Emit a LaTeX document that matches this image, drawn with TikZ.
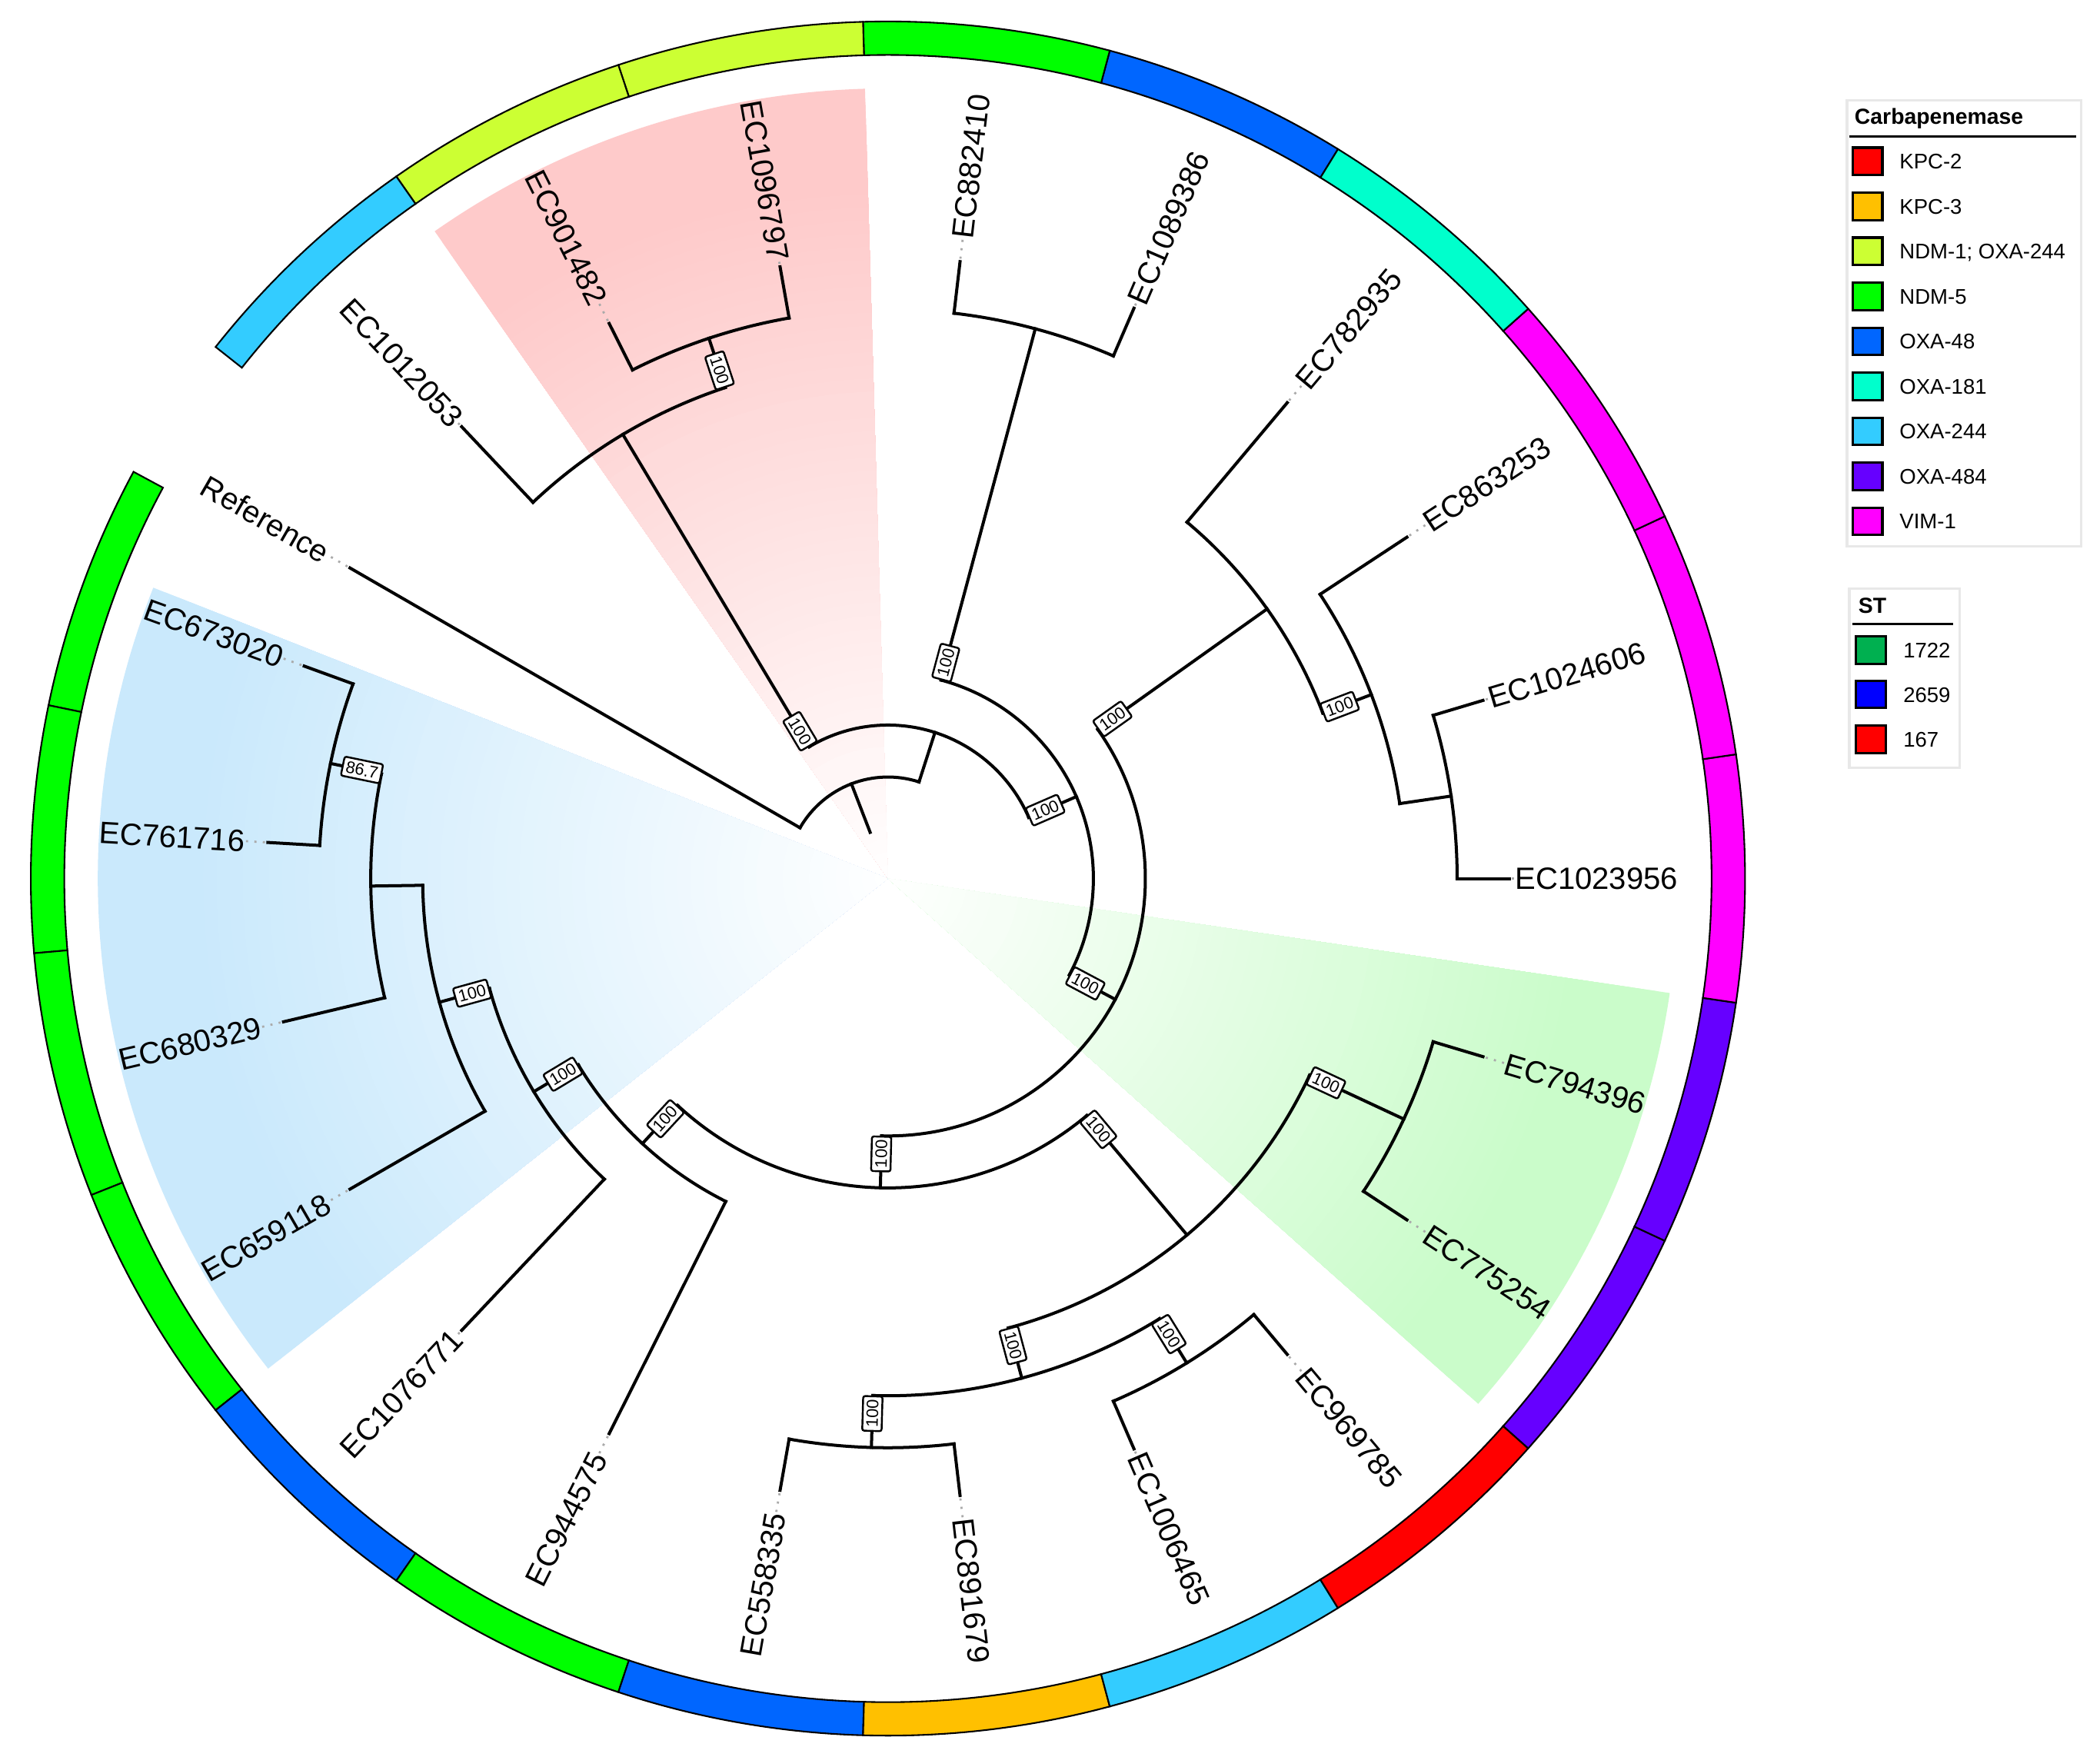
\documentclass[tikz,border=0pt]{standalone}
\usepackage{fontspec}
\setmainfont{Liberation Sans}
\definecolor{kpctwo}{RGB}{255,0,0}
\definecolor{kpcthree}{RGB}{255,192,0}
\definecolor{ndmone}{RGB}{204,255,51}
\definecolor{ndmfive}{RGB}{0,255,0}
\definecolor{oxafe}{RGB}{0,102,255}
\definecolor{oxaoee}{RGB}{0,255,204}
\definecolor{oxatff}{RGB}{51,204,255}
\definecolor{oxaffe}{RGB}{102,0,255}
\definecolor{vimone}{RGB}{255,0,255}
\definecolor{stA}{RGB}{0,176,80}
\definecolor{stB}{RGB}{0,0,255}
\definecolor{stC}{RGB}{255,0,0}
\definecolor{wpink}{RGB}{254,202,202}
\definecolor{wblue}{RGB}{202,233,252}
\definecolor{wgreen}{RGB}{202,252,202}
\definecolor{dotgray}{RGB}{170,170,170}
\definecolor{legframecol}{RGB}{232,232,232}
\tikzset{
  branch/.style={line width=2.3pt, line cap=rect, draw=black},
  leafdot/.style={draw=dotgray, line width=1.6pt, dash pattern=on 1.6pt off 4.7pt},
  leaflab/.style={font=\fontsize{23}{27}\selectfont, inner sep=0pt},
  bootbox/.style={draw=black, fill=white, line width=1.4pt, rounded corners=1.5pt,
    font=\fontsize{12.5}{14}\selectfont, inner xsep=2.5pt, inner ysep=2.8pt},
  ringline/.style={draw=black, line width=1.2pt},
  legbox/.style={draw=legframecol, fill=white, line width=2pt, inner sep=0pt},
  legsq/.style={draw=black, line width=1.8pt, minimum width=22pt, minimum height=20.5pt, inner sep=0pt},
  legtxt/.style={font=\fontsize{15.8}{18}\selectfont, inner sep=0pt},
  legtitle/.style={font=\bfseries\fontsize{16.3}{19}\selectfont, inner sep=0pt}
}
\newcommand\stemline[3]{\draw[branch] (#1:#2pt) -- (#1:#3pt);}
\newcommand\nodearc[3]{\draw[branch] (#1:#3pt) arc[start angle=#1, end angle=#2, radius=#3pt];}
\newcommand\leafR[4]{%
  \draw[branch] (#2:#3pt) -- (#2:463.8pt);
  \node[leaflab, rotate=#2, anchor=east] (#1) at (#2:590pt) {#4};
  \draw[leafdot] (#2:466pt) -- (#1.west);}
\newcommand\leafL[4]{%
  \draw[branch] (#2:#3pt) -- (#2:463.8pt);
  \node[leaflab, rotate=#2-180, anchor=west] (#1) at (#2:590pt) {#4};
  \draw[leafdot] (#2:466pt) -- (#1.east);}
\newcommand\bootlabel[5]{% name, angle, radius, rotation, text
  \node[bootbox, rotate=#4] (#1) at (#2:#3pt) {#5};}
\newcommand\ringseg[2]{%
  \draw[ringline, fill=#2] (#1-8.3333:615pt) arc[start angle=#1-8.3333, end angle=#1+8.3333, radius=615pt]
    -- (#1+8.3333:640pt) arc[start angle=#1+8.3333, end angle=#1-8.3333, radius=640pt] -- cycle;}
\newcommand\gradwedge[3]{%
  \foreach \k in {60,59,...,1}{%
    \pgfmathsetmacro\wr{9.83333*\k}%
    \pgfmathtruncatemacro\wp{min(100,\wr/5.2)}%
    \fill[#1!\wp!white] (0,0) -- (#2:\wr pt) arc[start angle=#2, end angle=#3, radius=\wr pt] -- cycle;
  }}
\newcommand\carbentry[4]{%
  \node[legsq, fill=#3] (#1sq) at (731.5,#2) {};
  \node[legtxt, anchor=base west] (#1tx) at (755.2,#2-5.7) {#4};}
\newcommand\stentry[4]{%
  \node[legsq, fill=#3] (#1sq) at (733.9,#2) {};
  \node[legtxt, anchor=base west] (#1tx) at (758,#2-5.7) {#4};}
\begin{document}
\begin{tikzpicture}[x=1pt,y=1pt]
\useasboundingbox (-663,-655.4) rectangle (905,656);
\fill[white] (-663,-655.4) rectangle (905,656);
% highlighted clades
\gradwedge{wpink}{451.667}{485}
\gradwedge{wblue}{158.4}{218.333}
\gradwedge{wgreen}{318.333}{351.667}
% outer ring
\ringseg{160}{ndmfive}
\ringseg{176.667}{ndmfive}
\ringseg{193.333}{ndmfive}
\ringseg{210}{ndmfive}
\ringseg{226.667}{oxafe}
\ringseg{243.333}{ndmfive}
\ringseg{260}{oxafe}
\ringseg{276.667}{kpcthree}
\ringseg{293.333}{oxatff}
\ringseg{310}{kpctwo}
\ringseg{326.667}{oxaffe}
\ringseg{343.333}{oxaffe}
\ringseg{360}{vimone}
\ringseg{376.667}{vimone}
\ringseg{393.333}{vimone}
\ringseg{410}{oxaoee}
\ringseg{426.667}{oxafe}
\ringseg{443.333}{ndmfive}
\ringseg{460}{ndmone}
\ringseg{476.667}{ndmone}
\ringseg{493.333}{oxatff}
% tree: internal branches
\stemline{471.084}{37}{75.8}  \nodearc{432.168}{510}{75.8}
\stemline{432.168}{75.8}{114.6} \nodearc{383.503}{480.833}{114.6}
\stemline{480.833}{114.6}{386.2} \nodearc{468.333}{493.333}{386.2}
\stemline{468.333}{386.2}{425} \nodearc{460}{476.667}{425}
\stemline{383.503}{114.6}{153.4} \nodearc{332.005}{435}{153.4}
\stemline{435}{153.4}{425} \nodearc{426.667}{443.333}{425}
\stemline{332.005}{153.4}{192.2} \nodearc{268.594}{395.417}{192.2}
\stemline{395.417}{192.2}{347.4} \nodearc{380.833}{410}{347.4}
\stemline{380.833}{347.4}{386.2} \nodearc{368.333}{393.333}{386.2}
\stemline{368.333}{386.2}{425} \nodearc{360}{376.667}{425}
\stemline{268.594}{192.2}{231} \nodearc{227.1875}{310}{231}
\stemline{310}{231}{347.4} \nodearc{285}{335}{347.4}
\stemline{335}{347.4}{425} \nodearc{326.667}{343.333}{425}
\stemline{285}{347.4}{386.2} \nodearc{268.333}{301.667}{386.2}
\stemline{301.667}{386.2}{425} \nodearc{293.333}{310}{425}
\stemline{268.333}{386.2}{425} \nodearc{260}{276.667}{425}
\stemline{227.1875}{231}{269.8} \nodearc{211.042}{243.333}{269.8}
\stemline{211.042}{269.8}{308.6} \nodearc{195.417}{226.667}{308.6}
\stemline{195.417}{308.6}{347.4} \nodearc{180.833}{210}{347.4}
\stemline{180.833}{347.4}{386.2} \nodearc{168.333}{193.333}{386.2}
\stemline{168.333}{386.2}{425} \nodearc{160}{176.667}{425}
% leaves
\leafL{lA}{160}{425}{EC673020}
\leafL{lB}{176.667}{425}{EC761716}
\leafL{lC}{193.333}{386.2}{EC680329}
\leafL{lD}{210}{347.4}{EC659118}
\leafL{lE}{226.667}{308.6}{EC1076771}
\leafL{lF}{243.333}{269.8}{EC944575}
\leafL{lG}{260}{425}{EC558335}
\leafR{lH}{276.667}{425}{EC891679}
\leafR{lI}{293.333}{425}{EC1006465}
\leafR{lJ}{310}{425}{EC969785}
\leafR{lK}{326.667}{425}{EC775254}
\leafR{lL}{343.333}{425}{EC794396}
\leafR{lM}{360}{425}{EC1023956}
\leafR{lN}{376.667}{425}{EC1024606}
\leafR{lO}{393.333}{386.2}{EC863253}
\leafR{lP}{410}{347.4}{EC782935}
\leafR{lQ}{426.667}{425}{EC1089386}
\leafR{lR}{443.333}{425}{EC882410}
\leafL{lS}{460}{425}{EC1096797}
\leafL{lT}{476.667}{425}{EC901482}
\leafL{lU}{493.333}{386.2}{EC1012053}
\leafL{lV}{510}{75.8}{Reference}
% bootstrap values
\bootlabel{bR}{480.833}{128.1}{-59.167}{100}
\bootlabel{bRtwo}{468.333}{399.7}{-71.667}{100}
\bootlabel{bNtwo}{383.503}{128.1}{23.503}{100}
\bootlabel{bB}{435}{166.9}{75}{100}
\bootlabel{bNthree}{332.005}{166.9}{-27.995}{100}
\bootlabel{bC}{395.417}{205.7}{35.417}{100}
\bootlabel{bCtwo}{380.833}{360.9}{20.833}{100}
\bootlabel{bNfour}{268.594}{205.7}{88.594}{100}
\bootlabel{bNfive}{310}{244.5}{-50}{100}
\bootlabel{bNsix}{335}{360.9}{-25}{100}
\bootlabel{bNseven}{285}{360.9}{-75}{100}
\bootlabel{bNeight}{301.667}{399.7}{-58.333}{100}
\bootlabel{bNnine}{268.333}{399.7}{88.333}{100}
\bootlabel{bNten}{227.1875}{244.5}{47.1875}{100}
\bootlabel{bNeleven}{211.042}{283.3}{31.042}{100}
\bootlabel{bNtwelve}{195.417}{322.1}{15.417}{100}
\bootlabel{bNfourteen}{168.333}{401}{-11.667}{86.7}
% legend: carbapenemase
\node[legbox, minimum width=175pt, minimum height=333pt, anchor=north west] (carbframe) at (715,582.2) {};
\node[legtitle, anchor=base west] (carbtitle) at (721.6,563.4) {Carbapenemase};
\coordinate (carbulA) at (717.8,554.1);
\coordinate (carbulB) at (887,554.1);
\draw[line width=1.6pt] (carbulA) -- (carbulB);
\carbentry{ca}{535.5}{kpctwo}{KPC-2}
\carbentry{cb}{501.9}{kpcthree}{KPC-3}
\carbentry{cc}{468.3}{ndmone}{NDM-1; OXA-244}
\carbentry{cd}{434.7}{ndmfive}{NDM-5}
\carbentry{ce}{401.1}{oxafe}{OXA-48}
\carbentry{cf}{367.5}{oxaoee}{OXA-181}
\carbentry{cg}{333.9}{oxatff}{OXA-244}
\carbentry{ch}{300.3}{oxaffe}{OXA-484}
\carbentry{ci}{266.7}{vimone}{VIM-1}
% legend: ST
\node[legbox, minimum width=82.3pt, minimum height=133.8pt, anchor=north west] (stframe) at (716.9,217.4) {};
\node[legtitle, anchor=base west] (sttitle) at (724.5,198.4) {ST};
\coordinate (stulA) at (720,190);
\coordinate (stulB) at (795.6,190);
\draw[line width=1.6pt] (stulA) -- (stulB);
\stentry{sa}{170.6}{stA}{1722}
\stentry{sb}{137.5}{stB}{2659}
\stentry{sc}{104.1}{stC}{167}
\end{tikzpicture}
\end{document}
